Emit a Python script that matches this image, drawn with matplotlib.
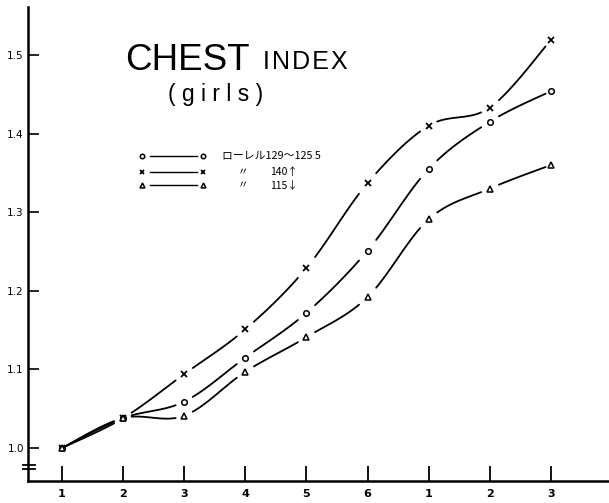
import numpy as np
import matplotlib
matplotlib.use("Agg")
import matplotlib.pyplot as plt

# ---- data ----
x_labels = ["1", "2", "3", "4", "5", "6", "1", "2", "3"]
y_ticks = [1.0, 1.1, 1.2, 1.3, 1.4, 1.5]
y_tick_labels = ["1.0", "1.1", "1.2", "1.3", "1.4", "1.5"]
rohrer_129_125 = [1.0, 1.038, 1.059, 1.115, 1.172, 1.251, 1.355, 1.415, 1.454]   # o
rohrer_140_up = [1.0, 1.038, 1.094, 1.151, 1.229, 1.337, 1.410, 1.433, 1.519]    # x
rohrer_115_down = [1.0, 1.038, 1.041, 1.097, 1.141, 1.192, 1.291, 1.330, 1.360]  # triangle
legend_names = ["ローレル", "〃", "〃"]
legend_ranges = ["129〜125 5", "140↑", "115↓"]

W, H = 609, 503
fig = plt.figure(figsize=(W / 100, H / 100), dpi=100)
fig.patch.set_facecolor("white")
ax = fig.add_axes([28 / W, 22 / H, 581 / W, 474 / H])
ax.set_facecolor("white")

xs = np.arange(len(x_labels))
ax.set_xlim(-0.556, 8.95)
ax.set_ylim(0.958, 1.561)


def catmull(p0, p1, p2, p3, t):
    t2, t3 = t * t, t * t * t
    return 0.5 * ((2 * p1) + (-p0 + p2) * t + (2 * p0 - 5 * p1 + 4 * p2 - p3) * t2
                  + (-p0 + 3 * p1 - 3 * p2 + p3) * t3)


def smooth_broken(ax, x, y, gap=0.14, **kw):
    x = np.asarray(x, float)
    y = np.asarray(y, float)
    n = len(x)
    for i in range(n - 1):
        i0 = max(i - 1, 0)
        i3 = min(i + 2, n - 1)
        g0 = 0.07 if i == 0 else gap
        t = np.linspace(g0, 1 - gap, 30)
        px = catmull(x[i0], x[i], x[i + 1], x[i3], t)
        py = catmull(y[i0], y[i], y[i + 1], y[i3], t)
        ax.plot(px, py, color="black", lw=1.3, solid_capstyle="round", **kw)


series = [
    (rohrer_129_125, dict(marker="o", ms=4.0, mfc="white", mec="black", mew=1.1)),
    (rohrer_140_up, dict(marker="x", ms=4.0, mec="black", mew=1.3)),
    (rohrer_115_down, dict(marker="^", ms=4.4, mfc="white", mec="black", mew=1.1)),
]
for vals, mk in series:
    smooth_broken(ax, xs, vals)
    ax.plot(xs, vals, ls="none", **mk)

# axes styling
for s in ["top", "right"]:
    ax.spines[s].set_visible(False)
ax.spines["left"].set_linewidth(1.8)
ax.spines["bottom"].set_linewidth(1.8)

ax.set_xticks(xs)
ax.set_xticklabels(x_labels, fontsize=8, fontweight="bold", family="DejaVu Sans")
ax.set_yticks(y_ticks)
ax.set_yticklabels(y_tick_labels, fontsize=7.5, family="DejaVu Sans")
ax.tick_params(axis="x", direction="in", length=11, width=1.3, pad=6)
ax.tick_params(axis="y", direction="in", length=8, width=1.2, pad=3)

# axis break mark
for yy in (0.034, 0.026):
    ax.plot([-0.008, 0.012], [yy, yy], transform=ax.transAxes, color="black",
            lw=1.3, clip_on=False)

# title
fig.text(125 / W, 1 - 70 / H, "CHEST", fontsize=26.5, family="Liberation Sans",
         ha="left", va="baseline")
fig.text(263 / W, 1 - 69 / H, "I\u200aN\u200aD\u200aE\u200aX", fontsize=18,
         family=["Liberation Sans", "DejaVu Sans"], ha="left", va="baseline")
fig.text(168 / W, 1 - 101 / H, "( g i r l s )", fontsize=16.5, family="Liberation Sans",
         ha="left", va="baseline")

# legend
leg_rows = [156, 172, 185]
jp = ["Noto Sans CJK JP", "DejaVu Sans"]
for row, (vals, mk), name, rng in zip(leg_rows, series, legend_names, legend_ranges):
    fy = 1 - row / H
    fig.add_artist(plt.Line2D([150 / W, 197 / W], [fy, fy], color="black", lw=1.0,
                              transform=fig.transFigure))
    mk2 = dict(mk)
    mk2["ms"] = mk2["ms"] * 0.8
    fig.add_artist(plt.Line2D([142 / W, 203 / W], [fy, fy], ls="none",
                              transform=fig.transFigure, **mk2))
    if name == "〃":
        fig.text(238 / W, fy, name, fontsize=7.5, family=jp, ha="left", va="center")
        fig.text(270 / W, fy, rng, fontsize=7.5, family=jp, ha="left", va="center")
    else:
        fig.text(222 / W, fy, name + rng, fontsize=7.8, family=jp, ha="left", va="center")

fig.savefig("out.png", dpi=100, facecolor="white")
